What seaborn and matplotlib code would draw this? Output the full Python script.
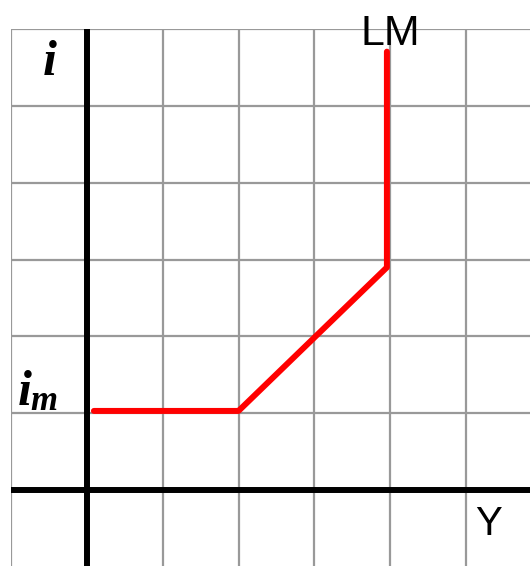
import numpy as np
import pandas as pd
import matplotlib.pyplot as plt
import seaborn as sns

# LM curve: flat liquidity-trap part, rising part, vertical classical part
lm_x = [0.09, 2.0, 3.96, 3.96]
lm_y = [1.03, 1.03, 2.9, 5.71]

grid_x = [-1, 0, 1, 2, 3, 4, 5]
grid_y = [0, 1, 2, 3, 4, 5, 6]

sns.set_style("white")
plt.rcParams['font.family'] = ['Liberation Sans', 'DejaVu Sans']
plt.rcParams['text.color'] = 'black'

fig = plt.figure(figsize=(5.3, 5.66), dpi=100)
ax_ = fig.add_axes([11 / 530, 0, 519 / 530, 537 / 566])

df = pd.DataFrame({'Y': lm_x, 'i': lm_y})

ax_.set_xlim(-1.005, 5.85)
ax_.set_ylim(-0.99, 6.005)
ax_.set_xticks(grid_x)
ax_.set_yticks(grid_y)
ax_.grid(True, color='#999999', linewidth=1.6)
ax_.tick_params(length=0, labelbottom=False, labelleft=False)
for s in ax_.spines.values():
    s.set_visible(False)

ax_.axhline(0, color='black', linewidth=4.3, zorder=3)
ax_.axvline(0, color='black', linewidth=4.3, zorder=3)

sns.lineplot(data=df, x='Y', y='i', sort=False, estimator=None, color='#ff0000',
             linewidth=4.3, ax=ax_, zorder=4)
ax_.set_xlabel('')
ax_.set_ylabel('')

ax_.text(4.01, 5.80, 'LM', fontsize=31, ha='center', va='baseline', clip_on=False)
ax_.text(5.30, -0.59, 'Y', fontsize=29, ha='center', va='baseline')

serif = dict(family='Liberation Serif', weight='bold', style='italic')
ax_.text(-0.49, 5.41, 'i', fontsize=36, ha='center', va='baseline', **serif)
ax_.text(-0.83, 1.11, 'i', fontsize=36, ha='center', va='baseline', **serif)
ax_.text(-0.75, 1.04, 'm', fontsize=25, ha='left', va='baseline', **serif)

fig.savefig('out.png', dpi=100)
